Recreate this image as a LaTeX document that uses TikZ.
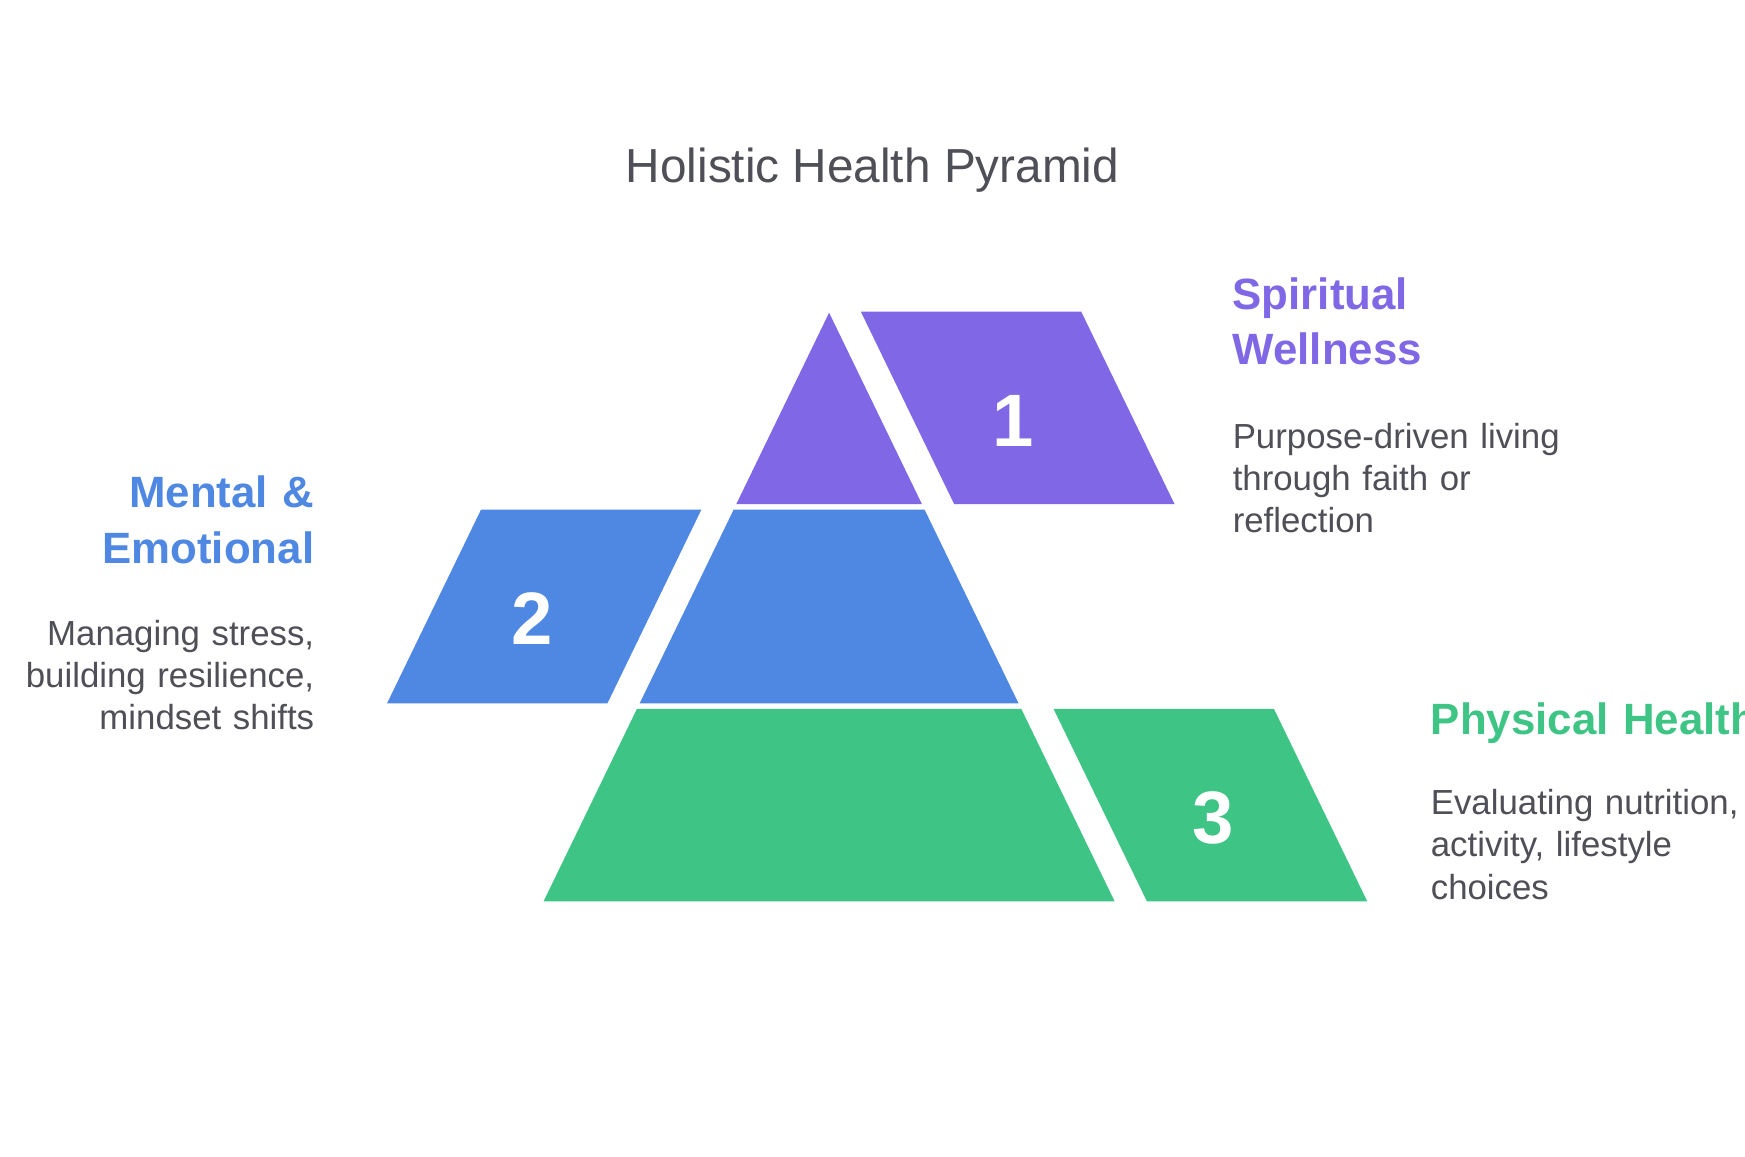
\documentclass[tikz,border=0pt]{standalone}
\usepackage{fontspec}
\setmainfont{Liberation Sans}
\definecolor{violet1}{HTML}{7F67E6}
\definecolor{blue1}{HTML}{4E88E3}
\definecolor{green1}{HTML}{3EC585}
\definecolor{ink}{HTML}{4F4F57}

\begin{document}
\begin{tikzpicture}[
  head/.style={font=\bfseries\fontsize{11.2}{14.2}\selectfont,text width=3.6cm,align=left,inner sep=0pt},
  desc/.style={font=\fontsize{8.9}{10.8}\selectfont,text=ink,text width=3.6cm,align=left,inner sep=0pt},
  num/.style={font=\bfseries\fontsize{19}{19}\selectfont,text=white,inner sep=0pt}]
 \useasboundingbox (0,0) rectangle (15.68,10.39);
 \fill[white] (0,0) rectangle (15.68,10.39);
 \node[font=\fontsize{12.2}{14}\selectfont,text=ink,anchor=base] (title) at (7.84,8.75) {Holistic Health Pyramid};
 % pyramid layers
 \fill[violet1] (7.45,7.58)--(8.284,5.86)--(6.616,5.86)--cycle;
 \fill[blue1] (6.592,5.81)--(8.308,5.81)--(9.152,4.07)--(5.748,4.07)--cycle;
 \fill[green1] (5.723,4.02)--(9.177,4.02)--(10.016,2.29)--(4.884,2.29)--cycle;
 % side tabs
 \fill[violet1] (7.735,7.59)--(9.715,7.59)--(10.554,5.86)--(8.574,5.86)--cycle;
 \fill[blue1] (4.322,5.81)--(6.302,5.81)--(5.458,4.07)--(3.478,4.07)--cycle;
 \fill[green1] (9.467,4.02)--(11.447,4.02)--(12.286,2.29)--(10.306,2.29)--cycle;
 \node[num] (n1) at (9.10,6.61) {1};
 \node[num] (n2) at (4.78,4.83) {2};
 \node[num] (n3) at (10.90,3.04) {3};
 % labels
 \node[head,text=violet1,anchor=base west] (spirit) at (11.07,7.61) {Spiritual\\Wellness};
 \node[desc,anchor=base west] (spirit-d) at (11.07,6.36) {Purpose-driven living\\through faith or\\reflection};
 \node[head,text=blue1,align=right,anchor=base east] (mental) at (2.83,5.83) {Mental \&\\Emotional};
 \node[desc,align=right,anchor=base east] (mental-d) at (2.83,4.59) {Managing stress,\\building resilience,\\mindset shifts};
 \node[head,text=green1,anchor=base west] (phys) at (12.85,3.79) {Physical Health};
 \node[desc,anchor=base west] (phys-d) at (12.85,3.07) {Evaluating nutrition,\\activity, lifestyle\\choices};
\end{tikzpicture}
\end{document}
